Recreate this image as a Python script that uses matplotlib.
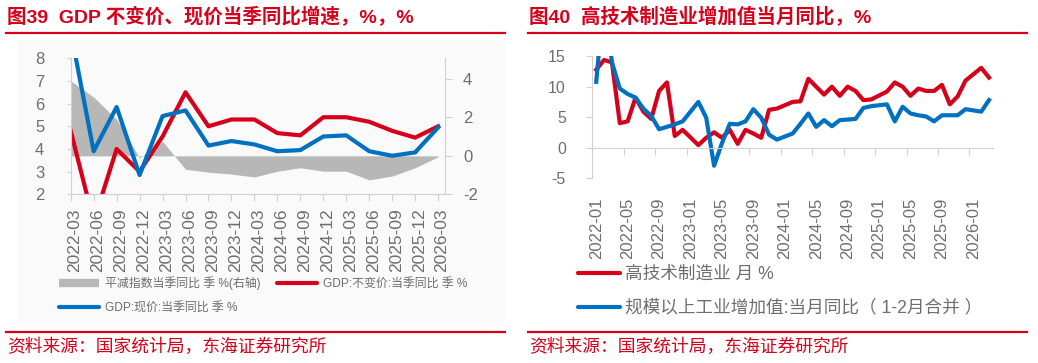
import numpy as np
import pandas as pd
import matplotlib
matplotlib.use("Agg")
import matplotlib.pyplot as plt
from matplotlib.lines import Line2D
from matplotlib.patches import Rectangle
from matplotlib.transforms import ScaledTranslation

plt.rcParams['font.family'] = ['Liberation Sans', 'Noto Sans CJK SC', 'DejaVu Sans']
plt.rcParams['axes.unicode_minus'] = False

RED = '#d7001b'
BLUE = '#0070c0'
GRAY = '#b7b7b7'
AXIS = '#d0d0d0'
TXT = '#6e6e6e'

# ---- chart 39: GDP quarterly yoy ----
quarters = ['2022-03', '2022-06', '2022-09', '2022-12', '2023-03', '2023-06',
            '2023-09', '2023-12', '2024-03', '2024-06', '2024-09', '2024-12',
            '2025-03', '2025-06', '2025-09', '2025-12', '2026-03']
gdp_real = [4.8, 0.8, 4.0, 3.0, 4.55, 6.5, 5.0, 5.3, 5.3, 4.7, 4.6, 5.4,
            5.4, 5.2, 4.8, 4.5, 5.0]
gdp_nominal = [9.2, 3.9, 5.85, 2.85, 5.45, 5.7, 4.15, 4.35, 4.2, 3.9, 3.95, 4.55,
               4.6, 3.9, 3.7, 3.85, 4.95]
deflator = [3.9, 3.05, 1.9, -0.1, 0.75, -0.7, -0.85, -0.95, -1.1, -0.8, -0.62, -0.8,
            -0.8, -1.25, -1.05, -0.62, -0.05]

# ---- chart 40: high-tech manufacturing vs industry, monthly yoy (Jan merged -> None) ----
months = list(pd.period_range('2022-01', '2026-03', freq='M').strftime('%Y-%m'))
hightech = [12.8, 14.4, 14.0, 4.0, 4.3, 8.2, 5.9, 4.7, 9.3, 10.7, 1.9, 2.9,
            None, 0.4, 1.6, 2.5, 1.6, 2.9, 0.6, 2.9, 2.3, 1.6, 6.2, 6.4,
            None, 7.5, 7.6, 11.3, 10.0, 8.7, 10.0, 8.5, 10.0, 9.3, 7.8, 7.9,
            None, 9.2, 10.7, 10.0, 8.5, 9.7, 9.3, 9.3, 10.3, 7.1, 8.4, 11.0,
            None, 13.1, 11.5]
industry = [10.8, 25.0, 14.0, 9.7, 8.8, 8.2, 6.4, 5.2, 3.0, 3.4, 3.8, 4.3,
            None, 7.5, 4.9, -3.0, 0.7, 3.9, 3.8, 4.3, 6.3, 4.9, 2.1, 1.3,
            None, 2.3, 3.9, 5.6, 3.4, 4.5, 3.5, 4.5, 4.6, 4.7, 6.5, 6.8,
            None, 7.1, 4.3, 6.7, 5.6, 5.3, 5.1, 4.3, 5.3, 5.3, 5.3, 6.3,
            None, 5.9, 7.8]

W, H = 1038, 363
fig = plt.figure(figsize=(W / 100, H / 100), dpi=100)


def fx(px):
    return px / W


def fy(py):
    return 1 - py / H


# faint panel behind the left chart
fig.add_artist(Rectangle((fx(17), fy(325)), fx(488), 285 / H, transform=fig.transFigure,
                         facecolor='#fafafa', edgecolor='none', zorder=0))

# headers, rules and sources
fig.text(fx(7), fy(17), '图39  GDP 不变价、现价当季同比增速，%，%', fontsize=14,
         fontweight='bold', color=RED, va='center')
fig.text(fx(529), fy(17), '图40  高技术制造业增加值当月同比，%', fontsize=14,
         fontweight='bold', color=RED, va='center')
for x0, x1 in [(6, 505), (528, 1027)]:
    for yy in [32.7, 331.7]:
        fig.add_artist(Line2D([fx(x0), fx(x1)], [fy(yy), fy(yy)], color=RED, lw=1.6))
fig.text(fx(7), fy(347), '资料来源：国家统计局，东海证券研究所', fontsize=12.8, color=RED, va='center')
fig.text(fx(529), fy(347), '资料来源：国家统计局，东海证券研究所', fontsize=12.8, color=RED, va='center')

# ---------- left chart ----------
ax1 = fig.add_axes([fx(70.7), fy(194.3), fx(445 - 70.7), (194.3 - 58.3) / H])
ax2 = ax1.twinx()
ax1.set_zorder(ax2.get_zorder() + 1)
ax1.patch.set_visible(False)

xq = np.arange(len(quarters))
ax2.fill_between(xq, 0, deflator, color=GRAY, linewidth=0)
ax2.set_ylim(-2, 5.07)
ax2.set_yticks([-2, 0, 2, 4])

l_real, = ax1.plot(xq, gdp_real, color=RED, lw=3)
l_nom, = ax1.plot(xq, gdp_nominal, color=BLUE, lw=3)
ax1.set_ylim(2, 8)
ax1.set_yticks(range(2, 9))
ax1.set_xlim(0, 16.3)
ax1.set_xticks(xq)
ax1.set_xticklabels(quarters, rotation=90)

for a in (ax1, ax2):
    for s in a.spines.values():
        s.set_color(AXIS)
    a.spines['top'].set_visible(False)
ax1.spines['right'].set_visible(False)
ax2.spines['left'].set_visible(False)
ax2.spines['bottom'].set_visible(False)
ax1.tick_params(axis='y', length=3, pad=16, colors=AXIS, labelcolor=TXT, labelsize=12)
ax1.tick_params(axis='x', length=5, pad=5, colors=AXIS, labelcolor=TXT, labelsize=12.5)
ax2.tick_params(axis='y', length=5, pad=8, colors=AXIS, labelcolor=TXT, labelsize=12)
shift = ScaledTranslation(4 / 100, 0, fig.dpi_scale_trans)
for lab in ax1.get_xticklabels():
    lab.set_transform(lab.get_transform() + shift)

h_gray = Line2D([], [], color=GRAY, lw=6, solid_capstyle='butt')
h_real = Line2D([], [], color=RED, lw=3, solid_capstyle='round')
h_nom = Line2D([], [], color=BLUE, lw=3, solid_capstyle='round')
fig.legend([h_gray, h_nom, h_real],
           ['平减指数当季同比 季 %(右轴)', 'GDP:现价:当季同比 季 %', 'GDP:不变价:当季同比 季 %'],
           loc='upper left', bbox_to_anchor=(fx(59), fy(276)), ncol=2, frameon=False,
           fontsize=8.6, labelcolor=TXT, handlelength=3.35, handletextpad=0.5,
           columnspacing=1.4, labelspacing=1.05, borderpad=0, borderaxespad=0)

# ---------- right chart ----------
ax3 = fig.add_axes([fx(592.3), fy(177.9), fx(993 - 592.3), (177.9 - 56.3) / H])
xm = np.arange(len(months))
ht = np.array([np.nan if v is None else v for v in hightech])
ind = np.array([np.nan if v is None else v for v in industry])
m1 = ~np.isnan(ht)
m2 = ~np.isnan(ind)
r_ht, = ax3.plot(xm[m1], ht[m1], color=RED, lw=3)
r_ind, = ax3.plot(xm[m2], ind[m2], color=BLUE, lw=3)
ax3.set_ylim(-5, 15)
ax3.set_yticks([-5, 0, 5, 10, 15])
ax3.set_xlim(-0.5, len(months) - 0.5)
ax3.spines['top'].set_visible(False)
ax3.spines['right'].set_visible(False)
ax3.spines['left'].set_color(AXIS)
ax3.spines['bottom'].set_color(AXIS)
ax3.spines['bottom'].set_position(('data', 0))
ax3.set_xticks(np.arange(3.5, len(months) - 1, 4))
ax3.set_xticklabels([])
ax3.tick_params(axis='x', length=5, colors=AXIS)
ax3.tick_params(axis='y', length=4, pad=15, colors=AXIS, labelcolor=TXT, labelsize=11.5)

sec = ax3.secondary_xaxis('bottom')
sec.set_xticks(xm[::4])
sec.set_xticklabels(months[::4], rotation=90)
sec.tick_params(length=0, pad=14, labelcolor=TXT, labelsize=12)
sec.spines['bottom'].set_visible(False)

fig.legend([h_real, h_nom], ['高技术制造业 月 %', '规模以上工业增加值:当月同比（ 1-2月合并 ）'],
           loc='upper left', bbox_to_anchor=(fx(578), fy(266)), ncol=1, frameon=False,
           fontsize=12.7, labelcolor=TXT, handlelength=2.4, handletextpad=0.25,
           labelspacing=0.95, borderpad=0, borderaxespad=0)

fig.savefig('out.png', dpi=100)
